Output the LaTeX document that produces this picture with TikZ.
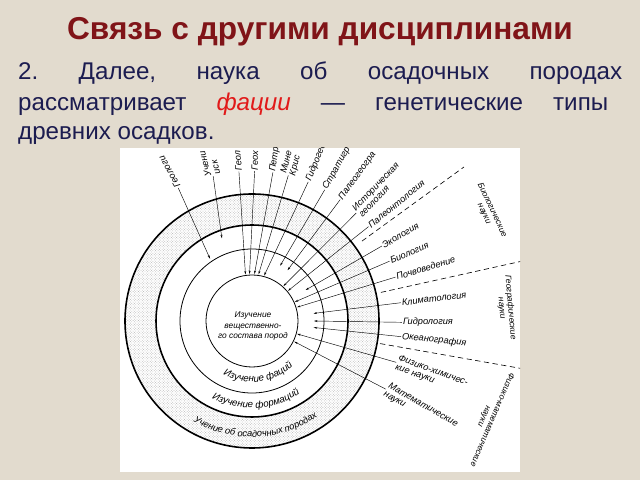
\documentclass[tikz,border=0pt]{standalone}
\usepackage{fontspec}
\setmainfont{Liberation Sans}
\usetikzlibrary{calc,arrows.meta,patterns,decorations.text}
\definecolor{paper}{RGB}{226,219,206}
\definecolor{titlered}{RGB}{128,20,24}
\definecolor{bodyblue}{RGB}{28,28,80}
\definecolor{facred}{RGB}{225,25,25}
\frenchspacing
\tikzset{
  lbl/.style={font=\fontsize{10.5}{10.5}\selectfont\itshape,inner sep=1pt,anchor=west,align=left},
  grp/.style={font=\fontsize{9.5}{10}\selectfont\itshape,inner sep=0pt,align=center},
  ring/.style={line width=0.9pt},
  bigring/.style={line width=1.8pt},
  lead/.style={line width=0.5pt,->},
  sep/.style={dash pattern=on 6pt off 4pt,line width=0.7pt}
}
\begin{document}
\begin{tikzpicture}[x=0.4mm,y=0.4mm,>={Stealth[length=4pt,width=2.2pt]}]
                \fill[paper] (0,0) rectangle (640,480);
                \useasboundingbox (0,0) rectangle (640,480);
                \node[font=\fontsize{36}{38}\selectfont\bfseries,text=titlered,anchor=base] (title) at (320,440) {Связь с другими дисциплинами};
                \node[font=\fontsize{27.5}{30}\selectfont,text=bodyblue,anchor=base west,inner sep=0] (line1) at (18,400) {\makebox[241.6mm][s]{2. Далее, наука об осадочных породах}};
                \node[font=\fontsize{27.5}{30}\selectfont,text=bodyblue,anchor=base west,inner sep=0] (line2) at (18,369) {\makebox[236mm][s]{рассматривает \textcolor{facred}{\itshape фации} — генетические типы}};
                \node[font=\fontsize{27.5}{30}\selectfont,text=bodyblue,anchor=base west,inner sep=0] (line3) at (18,340) {древних осадков.};
                \fill[white] (120,8) rectangle (520,332);
                \begin{scope}
                \clip (120,8) rectangle (520,332);
                \coordinate (C) at (252,159);
                \fill[pattern=crosshatch dots,pattern color=black!30,even odd rule] (C) circle[radius=127] (C) circle[radius=96];
                \draw[bigring] (C) circle[radius=127];
                \draw[bigring] (C) circle[radius=96];
                \draw[ring] (C) circle[radius=72];
                \draw[ring] (C) circle[radius=46];
                \node[font=\fontsize{9.5}{12.5}\selectfont\itshape,align=center,inner sep=0] (core) at (253,154) {Изучение\\вещественно-\\го состава пород};
                \path[decorate,decoration={text along path,text align=center,text={|\fontsize{11}{12}\selectfont\itshape|Изучение фаций}}] ($(C)+(215:61)$) arc[start angle=215,end angle=339,radius=61];
                \path[decorate,decoration={text along path,text align=center,text={|\fontsize{11}{12}\selectfont\itshape|Изучение формаций}}] ($(C)+(205:87)$) arc[start angle=205,end angle=341,radius=87];
                \path[decorate,decoration={text along path,text align=center,text={|\fontsize{10.5}{12}\selectfont\itshape|Учение об осадочных породах}}] ($(C)+(200:116)$) arc[start angle=200,end angle=344,radius=116];
                % rays to the circles
                \node[lbl,rotate=119] (geolA) at ($(C)+(119:152)$) {Геологи};
                \draw[lead] (geolA.west) -- ($(C)+(124:75)$);
                \node[lbl,rotate=105] (uch) at ($(C)+(105:150)$) {Учени\\иск};
                \draw[lead] (uch.west) -- ($(C)+(110:88)$);
                \node[lbl,rotate=95] (geolB) at ($(C)+(95:150)$) {Геол};
                \draw[lead] (geolB.west) -- ($(C)+(98:47)$);
                \node[lbl,rotate=89] (geoh) at ($(C)+(89:150)$) {Геох};
                \draw[lead] (geoh.west) -- ($(C)+(93:47)$);
                \node[lbl,rotate=82] (petr) at ($(C)+(82:150)$) {Петр};
                \draw[lead] (petr.west) -- ($(C)+(87:47)$);
                \node[lbl,rotate=76] (mine) at ($(C)+(76:150)$) {Мине\\Крис};
                \draw[lead] (mine.west) -- ($(C)+(82:47)$);
                \node[lbl,rotate=68] (gidrog) at ($(C)+(68:150)$) {Гидрогео};
                \draw[lead] (gidrog.west) -- ($(C)+(75:47)$);
                \node[lbl,rotate=61] (strat) at ($(C)+(61:150)$) {Стратигр};
                \draw[lead] (strat.west) -- ($(C)+(63:62)$);
                \node[lbl,rotate=54] (paleog) at ($(C)+(54:150)$) {Палеогеогра};
                \draw[lead] (paleog.west) -- ($(C)+(55:62)$);
                \node[lbl,rotate=46] (istor) at ($(C)+(46:150)$) {Историческая\\геология};
                \draw[lead] (istor.west) -- ($(C)+(48:47)$);
                \node[lbl,rotate=39] (paleont) at ($(C)+(39:150)$) {Палеонтология};
                \draw[lead] (paleont.west) -- ($(C)+(40:47)$);
                \node[lbl,rotate=30] (ecol) at ($(C)+(30:150)$) {Экология};
                \draw[lead] (ecol.west) -- ($(C)+(30:62)$);
                \node[lbl,rotate=23.5] (biol) at ($(C)+(23.5:150)$) {Биология};
                \draw[lead] (biol.west) -- ($(C)+(24:47)$);
                \node[lbl,rotate=17] (pochv) at ($(C)+(17:150)$) {Почвоведение};
                \draw[lead] (pochv.west) -- ($(C)+(17:47)$);
                \node[lbl,rotate=7] (klim) at ($(C)+(7:150)$) {Климатология};
                \draw[lead] (klim.west) -- ($(C)+(7:62)$);
                \node[lbl] (gidrol) at ($(C)+(-0.5:150)$) {Гидрология};
                \draw[lead] (gidrol.west) -- ($(C)+(0:62)$);
                \node[lbl,rotate=-6] (okean) at ($(C)+(-6:150)$) {Океанография};
                \draw[lead] (okean.west) -- ($(C)+(-6:62)$);
                \node[lbl,rotate=-20] (fizh) at ($(C)+(-16:150)$) {Физико-химичес-\\кие науки};
                \draw[lead] (fizh.west) -- ($(C)+(-16:47)$);
                \node[lbl,rotate=-30] (matem) at ($(C)+(-27:150)$) {Математические\\науки};
                \draw[lead] (matem.west) -- ($(C)+(-26:47)$);
                % groups of sciences
                \draw[sep] ($(C)+(36:136)$) -- ($(C)+(36:262)$);
                \draw[sep] ($(C)+(12.5:132)$) -- ($(C)+(12.5:275)$);
                \draw[sep] ($(C)+(-10:130)$) -- ($(C)+(-10:275)$);
                \node[grp,rotate=-65] (bio) at (488,268) {Биологические\\науки};
                \node[grp,rotate=-85] (geo) at (506,172) {Географические\\науки};
                \node[grp,rotate=-113] (fizm) at (488,62) {Физико-математические\\науки};
                \end{scope}
            \end{tikzpicture}
\end{document}
